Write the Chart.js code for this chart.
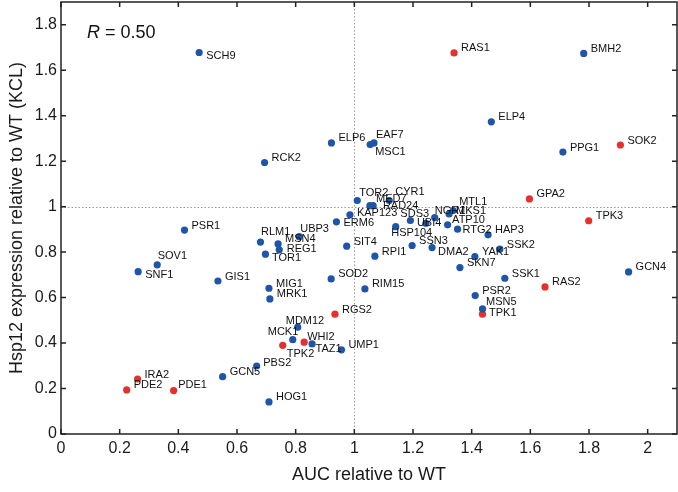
<!DOCTYPE html>
<html>
<head>
<meta charset="utf-8">
<script src="https://cdn.jsdelivr.net/npm/chart.js@4.4.1/dist/chart.umd.min.js"></script>
<style>
  html, body { margin: 0; padding: 0; background: #fff; }
  canvas { display: block; }
</style>
</head>
<body>
<canvas id="chart" width="678" height="492"></canvas>
<script>
// blue = other genes, red = Ras/PKA pathway genes
const blueGenes = ['SCH9','BMH2','ELP4','ELP6','EAF7','MSC1','PPG1','RCK2','TOR2','CYR1',
  'MED7','RAD24','KAP123','ERM6','SDS3','UBI4','NGR1','MTL1','MKS1','ATP10',
  'HSP104','RTG2','HAP3','SSK2','SIT4','SSN3','DMA2','RPI1','YAK1','SKN7',
  'GCN4','SSK1','PSR2','MSN5','SOD2','RIM15','UMP1','PSR1','RLM1','UBP3',
  'MSN4','REG1','TOR1','SOV1','SNF1','GIS1','MIG1','MRK1','MDM12','MCK1',
  'TAZ1','PBS2','GCN5','HOG1'];
const blueAuc = [0.471,1.782,1.467,0.922,1.067,1.054,1.711,0.694,1.010,1.119,
  1.064,1.053,0.985,0.939,1.191,1.244,1.274,1.337,1.323,1.318,
  1.141,1.352,1.456,1.496,0.974,1.197,1.265,1.070,1.411,1.360,
  1.935,1.513,1.412,1.437,0.921,1.036,0.956,0.421,0.680,0.812,
  0.740,0.744,0.697,0.328,0.263,0.535,0.709,0.712,0.807,0.790,
  0.856,0.667,0.551,0.709];
const blueHsp = [1.678,1.674,1.373,1.280,1.280,1.273,1.240,1.194,1.027,1.027,
  1.004,1.004,0.964,0.933,0.939,0.927,0.952,0.983,0.968,0.920,
  0.912,0.901,0.876,0.813,0.826,0.829,0.820,0.782,0.780,0.732,
  0.713,0.685,0.609,0.550,0.682,0.638,0.370,0.897,0.844,0.868,
  0.836,0.810,0.791,0.744,0.714,0.673,0.641,0.594,0.470,0.415,
  0.396,0.299,0.252,0.141];

const redGenes = ['RAS1','SOK2','GPA2','TPK3','RAS2','TPK1','RGS2','WHI2','TPK2','IRA2','PDE2','PDE1'];
const redAuc = [1.340,1.907,1.597,1.799,1.650,1.437,0.934,0.829,0.756,0.261,0.224,0.384];
const redHsp = [1.676,1.271,1.034,0.938,0.647,0.527,0.527,0.404,0.390,0.242,0.194,0.191];

const xTicks = [0, 0.2, 0.4, 0.6, 0.8, 1, 1.2, 1.4, 1.6, 1.8, 2];
const yTicks = [0, 0.2, 0.4, 0.6, 0.8, 1, 1.2, 1.4, 1.6, 1.8];
const rValue = '0.50';

// label nudges in px [dx, dy]; anything not listed sits up-right of its dot
const labelNudge = {
  SCH9: [7, 3.5], EAF7: [2, -8], MSC1: [5, 7.5], TOR2: [2, -8], CYR1: [6, -9],
  MED7: [3, -7], RAD24: [13, 0], KAP123: [7, -2], ERM6: [7, 1.5], SDS3: [-10, -7],
  UBI4: [-9, 0], NGR1: [0, -7], MTL1: [6, -8.5], MKS1: [7, -2.5], ATP10: [4.5, -5],
  HSP104: [-4.5, 6.5], RTG2: [5, 0.5], DMA2: [6, 4.5], MSN5: [3.5, -6.5], TPK1: [6.5, -1],
  RLM1: [0.5, -10.5], UBP3: [1, -7.5], REG1: [7.5, -1], TOR1: [6.5, 3.5], SOV1: [0.5, -9],
  SNF1: [7, 3.5], MDM12: [-12, -6.5], MCK1: [-25, -7.5], TPK2: [4, 8.5], WHI2: [3, -5.5],
  TAZ1: [3.5, 5], PBS2: [6.5, -3.5], PDE1: [4.5, -6]
};

const FONT = "'Liberation Sans', Arial, Helvetica, sans-serif";
Chart.defaults.font.family = FONT;
Chart.defaults.color = '#1a1a1a';

function toPoints(xs, ys) {
  return xs.map((v, i) => ({ x: v, y: ys[i] }));
}

const framePlugin = {
  id: 'frame',
  beforeDatasetsDraw(chart) {
    const { ctx, chartArea: a, scales: { x, y } } = chart;
    ctx.save();
    // dotted lines at 1
    ctx.strokeStyle = '#9a9a9a';
    ctx.lineWidth = 1;
    ctx.setLineDash([1.5, 2]);
    const x1 = Math.round(x.getPixelForValue(1)) + 0.5;
    const y1 = Math.round(y.getPixelForValue(1)) + 0.5;
    ctx.beginPath();
    ctx.moveTo(x1, a.top); ctx.lineTo(x1, a.bottom);
    ctx.moveTo(a.left, y1); ctx.lineTo(a.right, y1);
    ctx.stroke();
    ctx.setLineDash([]);

    // box and inward ticks on all four sides
    ctx.strokeStyle = '#222';
    ctx.lineWidth = 1.5;
    ctx.strokeRect(a.left, a.top, a.right - a.left, a.bottom - a.top);
    ctx.beginPath();
    xTicks.forEach(v => {
      const px = x.getPixelForValue(v);
      ctx.moveTo(px, a.bottom); ctx.lineTo(px, a.bottom - 5);
      ctx.moveTo(px, a.top); ctx.lineTo(px, a.top + 5);
    });
    yTicks.forEach(v => {
      const py = y.getPixelForValue(v);
      ctx.moveTo(a.left, py); ctx.lineTo(a.left + 5, py);
      ctx.moveTo(a.right, py); ctx.lineTo(a.right - 5, py);
    });
    ctx.stroke();
    ctx.restore();
  },
  afterDatasetsDraw(chart) {
    const { ctx, chartArea: a } = chart;
    ctx.save();
    ctx.font = '11px ' + FONT;
    ctx.fillStyle = '#111';
    ctx.textBaseline = 'middle';
    ctx.textAlign = 'left';
    chart.data.datasets.forEach((ds, di) => {
      const meta = chart.getDatasetMeta(di);
      meta.data.forEach((pt, i) => {
        const name = ds.genes[i];
        const [dx, dy] = labelNudge[name] || [7, -4.5];
        ctx.fillText(name, pt.x + dx, pt.y + dy);
      });
    });

    // R value, top left
    ctx.textBaseline = 'alphabetic';
    ctx.font = 'italic 18px ' + FONT;
    const rx = a.left + 26, ry = a.top + 36;
    ctx.fillText('R', rx, ry);
    const w = ctx.measureText('R').width;
    ctx.font = '18px ' + FONT;
    ctx.fillText(' = ' + rValue, rx + w, ry);
    ctx.restore();
  }
};

new Chart(document.getElementById('chart').getContext('2d'), {
  type: 'scatter',
  data: {
    datasets: [
      {
        label: 'other',
        genes: blueGenes,
        data: toPoints(blueAuc, blueHsp),
        backgroundColor: '#1f55a8',
        borderWidth: 0,
        pointRadius: 3.6
      },
      {
        label: 'Ras/PKA',
        genes: redGenes,
        data: toPoints(redAuc, redHsp),
        backgroundColor: '#e6302b',
        borderWidth: 0,
        pointRadius: 3.6
      }
    ]
  },
  options: {
    responsive: false,
    animation: false,
    devicePixelRatio: 1,
    layout: { autoPadding: false, padding: { top: 2, right: 1, left: 0, bottom: 0 } },
    plugins: { legend: { display: false }, tooltip: { enabled: false } },
    scales: {
      x: {
        type: 'linear',
        min: 0,
        max: 2.1,
        afterBuildTicks: s => { s.ticks = xTicks.map(v => ({ value: v })); },
        afterFit: s => { s.height = 58; s.paddingLeft = 0; s.paddingRight = 0; },
        grid: { display: false, drawTicks: false },
        border: { display: false },
        ticks: { font: { size: 16 }, padding: 5, maxRotation: 0, autoSkip: false, callback: v => String(v) },
        title: { display: true, text: 'AUC relative to WT', font: { size: 18 }, padding: { top: 0, bottom: 6 } }
      },
      y: {
        type: 'linear',
        min: 0,
        max: 1.9,
        afterBuildTicks: s => { s.ticks = yTicks.map(v => ({ value: v })); },
        afterFit: s => { s.width = 61; s.paddingTop = 0; s.paddingBottom = 0; },
        grid: { display: false, drawTicks: false },
        border: { display: false },
        ticks: { font: { size: 16 }, padding: 4, autoSkip: false, callback: v => String(v) },
        title: { display: true, text: 'Hsp12 expression relative to WT (KCL)', font: { size: 18 }, padding: { top: 6, bottom: 0 } }
      }
    }
  },
  plugins: [framePlugin]
});
</script>
</body>
</html>
